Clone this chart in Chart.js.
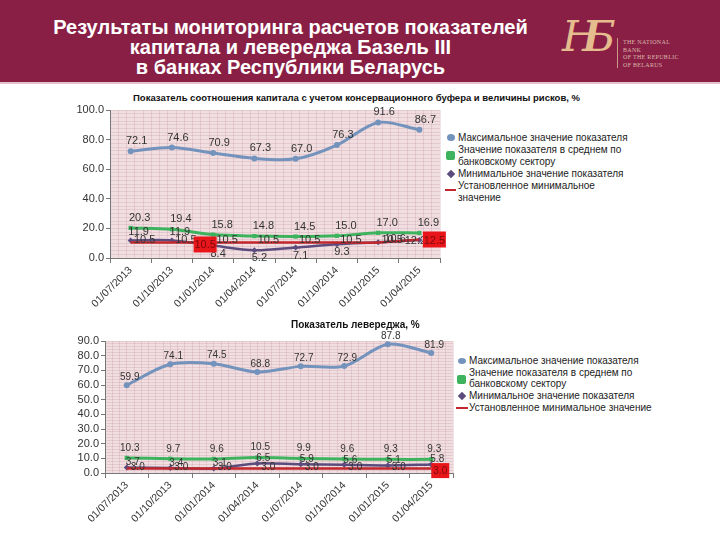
<!DOCTYPE html>
<html>
<head>
<meta charset="utf-8">
<script src="https://cdn.jsdelivr.net/npm/chart.js@4.4.1/dist/chart.umd.min.js"></script>
<style>
  body { margin:0; width:720px; height:540px; background:#fff; position:relative; overflow:hidden;
         font-family:"Liberation Sans", Arial, sans-serif; }
  #hdr { position:absolute; left:0; top:0; width:720px; height:82px; background:#8A1F46; }
  #hdrline { position:absolute; left:0; top:82px; width:720px; height:2px; background:#E2C2CD; }
  #title { position:absolute; left:0; top:17px; width:581px; text-align:center; color:#fff;
           font-weight:bold; font-size:20px; line-height:20px; }
  #mono { position:absolute; left:562px; top:12px; color:#E4BC8E; font-family:"DejaVu Serif", serif;
          font-style:italic; font-size:42px; letter-spacing:-14px; }
  #vbar { position:absolute; left:617px; top:38px; width:1px; height:30px; background:#C99A86; }
  #bank { position:absolute; left:623px; top:39px; color:#D9B7A6; font-family:"Liberation Serif", serif;
          font-size:6px; line-height:7.5px; letter-spacing:0.3px; }
  .ct { position:absolute; font-weight:bold; color:#111; white-space:nowrap; }
  canvas { position:absolute; }
  .lg { position:absolute; font-size:10px; color:#222; white-space:nowrap; }
  .mk { position:absolute; }
</style>
</head>
<body>
<div id="hdr"></div>
<div id="hdrline"></div>
<div id="title">Результаты мониторинга расчетов показателей<br>капитала и левереджа Базель III<br>в банках Республики Беларусь</div>
<div id="mono">НБ</div>
<div id="vbar"></div>
<div id="bank">THE NATIONAL<br>BANK<br>OF THE REPUBLIC<br>OF BELARUS</div>

<div class="ct" style="left:133px; top:92px; font-size:9.5px;">Показатель соотношения капитала с учетом консервационного буфера и величины рисков, %</div>
<canvas id="c1" width="410" height="225" style="left:40px; top:95px;"></canvas>
<div class="lg" style="left:458px; top:132px; line-height:12px;">Максимальное значение показателя<br>Значение показателя в среднем по<br>банковскому сектору<br>Минимальное значение показателя<br>Установленное минимальное<br>значение</div>
<div class="mk" style="left:447px; top:134px; width:8px; height:7px; border-radius:50%; background:#7393BD;"></div>
<div class="mk" style="left:446px; top:151px; width:9px; height:9px; border-radius:2px; background:#3DB35D;"></div>
<div class="mk" style="left:448px; top:171px; width:6px; height:6px; transform:rotate(45deg); background:#5B4C7D;"></div>
<div class="mk" style="left:445px; top:189px; width:11px; height:2px; background:#C1272D;"></div>

<div class="ct" style="left:291px; top:319px; font-size:10px;">Показатель левереджа, %</div>
<canvas id="c2" width="425" height="210" style="left:40px; top:330px;"></canvas>
<div class="lg" style="left:469px; top:355px; line-height:11.7px;">Максимальное значение показателя<br>Значение показателя в среднем по<br>банковскому сектору<br>Минимальное значение показателя<br>Установленное минимальное значение</div>
<div class="mk" style="left:458px; top:358px; width:8px; height:6px; border-radius:50%; background:#7393BD;"></div>
<div class="mk" style="left:457px; top:375px; width:9px; height:9px; border-radius:2px; background:#3DB35D;"></div>
<div class="mk" style="left:459px; top:393px; width:6px; height:6px; transform:rotate(45deg); background:#5B4C7D;"></div>
<div class="mk" style="left:456px; top:407px; width:12px; height:2px; background:#C1272D;"></div>

<script>
var dates = ['01/07/2013', '01/10/2013', '01/01/2014', '01/04/2014', '01/07/2014', '01/10/2014', '01/01/2015', '01/04/2015'];

// capital ratio with conservation buffer, %
var capMax = [72.1, 74.6, 70.9, 67.3, 67.0, 76.3, 91.6, 86.7];
var capAvg = [20.3, 19.4, 15.8, 14.8, 14.5, 15.0, 17.0, 16.9];
var capMin = [11.9, 11.9, 8.4, 5.2, 7.1, 9.3, 10.6, 12.2];
var capReq = [10.5, 10.5, 10.5, 10.5, 10.5, 10.5, 10.5, 12.5];
var capTicks = [0, 20, 40, 60, 80, 100];

// leverage, %
var levMax = [59.9, 74.1, 74.5, 68.8, 72.7, 72.9, 87.8, 81.9];
var levAvg = [10.3, 9.7, 9.6, 10.5, 9.9, 9.6, 9.3, 9.3];
var levMin = [3.7, 3.4, 3.1, 6.5, 5.9, 5.6, 5.1, 5.8];
var levReq = [3.0, 3.0, 3.0, 3.0, 3.0, 3.0, 3.0, 3.0];
var levTicks = [0, 10, 20, 30, 40, 50, 60, 70, 80, 90];

Chart.defaults.font.family = '"Liberation Sans", Arial, sans-serif';

var BLUE = '#7393BD', GREEN = '#3DB35D', PURPLE = '#5B4C7D', RED = '#C1272D';
var GRIDPINK = 'rgba(180,130,145,0.22)';

// plot background
var plotBg = {
  id: 'plotBg',
  beforeDraw: function (chart) {
    var a = chart.chartArea, ctx = chart.ctx;
    ctx.save();
    ctx.fillStyle = '#F1DEE1';
    ctx.fillRect(a.left, a.top, a.right - a.left, a.bottom - a.top);
    ctx.restore();
  }
};

// value labels + red highlight boxes
var pointLabels = {
  id: 'pointLabels',
  afterDatasetsDraw: function (chart) {
    var ctx = chart.ctx;
    ctx.save();
    ctx.textAlign = 'center';
    ctx.textBaseline = 'middle';
    var boxes = [];
    chart.data.datasets.forEach(function (ds, di) {
      var lb = ds.lbl;
      if (!lb) return;
      var pts = chart.getDatasetMeta(di).data;
      ctx.font = lb.size + 'px "Liberation Sans", Arial, sans-serif';
      ctx.fillStyle = '#333';
      pts.forEach(function (p, i) {
        if (lb.skip && lb.skip.indexOf(i) >= 0) return;
        var o = lb.off(i);
        ctx.fillText(ds.data[i].toFixed(1), p.x + o[0], p.y + o[1]);
      });
      (lb.boxes || []).forEach(function (b) {
        boxes.push({ p: pts[b.i], v: ds.data[b.i], b: b, size: lb.size });
      });
    });
    boxes.forEach(function (bx) {
      var x = bx.p.x + bx.b.dx, y = bx.p.y + bx.b.dy;
      ctx.fillStyle = '#E8151B';
      ctx.fillRect(x - bx.b.w / 2, y - bx.b.h / 2, bx.b.w, bx.b.h);
      ctx.fillStyle = '#7A0A0A';
      ctx.font = bx.size + 'px "Liberation Sans", Arial, sans-serif';
      ctx.fillText(bx.v.toFixed(1), x, y + 1);
    });
    ctx.restore();
  }
};

function series(label, data, color, style, width, order, lbl) {
  return {
    label: label, data: data, borderColor: color, backgroundColor: color,
    borderWidth: width, pointStyle: style, pointRadius: style ? 3 : 0,
    pointBorderWidth: 0, tension: 0.3, order: order, lbl: lbl
  };
}

function makeChart(id, d, o) {
  return new Chart(document.getElementById(id).getContext('2d'), {
    type: 'line',
    data: {
      labels: dates,
      datasets: [
        series('Максимальное значение показателя', d.max, BLUE, 'circle', 3, 3, o.maxLbl),
        series('Значение показателя в среднем по банковскому сектору', d.avg, GREEN, 'rect', 3, 0, o.avgLbl),
        series('Минимальное значение показателя', d.min, PURPLE, 'rectRot', 2.5, 2, o.minLbl),
        series('Установленное минимальное значение', d.req, RED, false, 2.5, 1, o.reqLbl)
      ]
    },
    options: {
      responsive: false,
      animation: false,
      events: [],
      layout: { padding: o.pad },
      plugins: { legend: { display: false }, tooltip: { enabled: false } },
      scales: {
        x: {
          offset: true,
          grid: { drawOnChartArea: false, tickLength: 5, color: '#777', offset: true },
          border: { color: '#777' },
          ticks: { color: '#333', font: { size: 10.5 }, minRotation: 45, maxRotation: 45, autoSkip: false, padding: 1 },
          afterFit: function (a) { a.height = o.xh; }
        },
        y: {
          min: 0, max: o.max,
          afterBuildTicks: function (a) { a.ticks = o.ticks.map(function (v) { return { value: v }; }); },
          ticks: { color: '#333', font: { size: 11 }, padding: 2, autoSkip: false,
                   callback: function (v) { return v.toFixed(1); } },
          grid: { drawOnChartArea: false, tickLength: 4, color: '#777' },
          border: { color: '#777' },
          afterFit: function (a) { a.width = o.yw; }
        },
        ym: {
          position: 'left', min: 0, max: o.max,
          ticks: { display: false, stepSize: o.ystep, maxTicksLimit: 200 },
          grid: { color: GRIDPINK, drawTicks: false },
          border: { display: false },
          afterFit: function (a) { a.width = 0; }
        },
        xm: {
          type: 'linear', position: 'bottom', min: 0, max: dates.length * o.xsub,
          ticks: { display: false, stepSize: 1, maxTicksLimit: 200 },
          grid: { color: GRIDPINK, drawTicks: false },
          border: { display: false },
          afterFit: function (a) { a.height = 0; }
        }
      }
    },
    plugins: [plotBg, pointLabels]
  });
}

makeChart('c1',
  { max: capMax, avg: capAvg, min: capMin, req: capReq },
  {
    max: 100, ticks: capTicks, ystep: 2.5, xsub: 5, yw: 70, xh: 62,
    pad: { top: 15, right: 10, left: 0, bottom: 0 },
    maxLbl: { size: 11, off: function () { return [6, -10]; } },
    avgLbl: { size: 11, off: function () { return [9, -10]; } },
    minLbl: { size: 11, off: function (i) {
      if (i < 2) return [8, -8];
      if (i === 6) return [17, -3];
      if (i === 7) return [-4, 1];
      return [5, 8];
    } },
    reqLbl: { size: 11, skip: [7], off: function () { return [14, -2]; },
      boxes: [{ i: 2, dx: -8, dy: 2, w: 23, h: 16 }, { i: 7, dx: 15, dy: 0, w: 23, h: 16 }] }
  });

makeChart('c2',
  { max: levMax, avg: levAvg, min: levMin, req: levReq },
  {
    max: 90, ticks: levTicks, ystep: 2, xsub: 6, yw: 65, xh: 67,
    pad: { top: 11, right: 12, left: 0, bottom: 0 },
    maxLbl: { size: 10, off: function () { return [3, -8]; } },
    avgLbl: { size: 10, off: function () { return [3, -10]; } },
    minLbl: { size: 10, off: function () { return [6, -5]; } },
    reqLbl: { size: 10, skip: [7], off: function () { return [11, -1]; },
      boxes: [{ i: 7, dx: 9, dy: 2, w: 18, h: 15 }] }
  });
</script>
</body>
</html>
